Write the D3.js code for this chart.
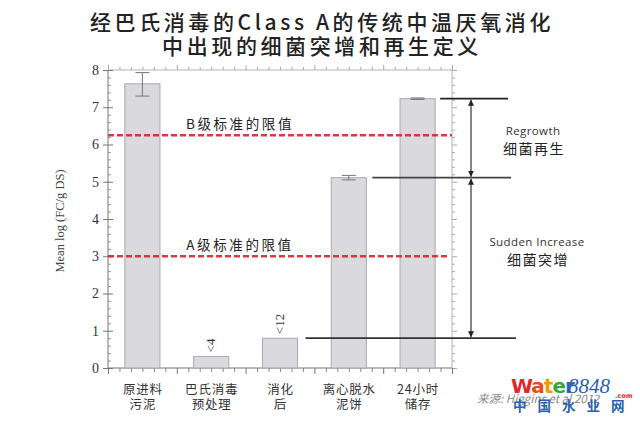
<!DOCTYPE html>
<html><head><meta charset="utf-8">
<script src="https://cdn.jsdelivr.net/npm/d3@7/dist/d3.min.js"></script>
<style>
html,body{margin:0;padding:0;background:#fff;}
svg{display:block;}
</style></head>
<body>
<svg id="chart" width="640" height="422"></svg>
<script>
// ---- data ----
const titleLines = ["经巴氏消毒的Class A的传统中温厌氧消化", "中出现的细菌突增和再生定义"];
const categories = [["原进料","污泥"],["巴氏消毒","预处理"],["消化","后"],["离心脱水","泥饼"],["24小时","储存"]];
const values = [7.63, 0.31, 0.80, 5.11, 7.23];
const errLow = [7.30, null, null, 5.05, 7.21];
const errHigh = [7.93, null, null, 5.17, 7.25];
const barNotes = ["", "<4", "<12", "", ""];
const limitValues = [6.25, 3.0];
const limitLabels = ["B级标准的限值", "A级标准的限值"];
const yTicks = [0,1,2,3,4,5,6,7,8];
const yLabel = "Mean log (FC/g DS)";
const annoTexts = [["Regrowth","细菌再生"],["Sudden Increase","细菌突增"]];
const sourceText = "来源: Higgins et al 2012";

// ---- layout ----
const L = 108, R = 452, T = 70, B = 368;
const svg = d3.select("#chart");
const cjk = "'Noto Sans CJK SC','Noto Sans',sans-serif";
const serif = "'Liberation Serif','DejaVu Serif',serif";

const x = d3.scaleBand().domain(d3.range(categories.length)).range([L, R]).paddingInner(0.49).paddingOuter(0.245);
const xl = d3.scaleLinear().domain([0, categories.length]).range([L, R]);
const y = d3.scaleLinear().domain([0, 8]).range([B, T]);

// title
svg.selectAll("text.title").data(titleLines).join("text")
  .attr("class","title")
  .attr("x", 322).attr("y", (d,i)=> 30 + i*24)
  .attr("text-anchor","middle")
  .style("font-family", cjk).style("font-size","21px").style("font-weight","500")
  .style("letter-spacing","3.6px").style("fill","#222")
  .text(d=>d);

const frameCol = "#9a9a9a";
// frame lines
svg.append("line").attr("x1",L).attr("x2",R).attr("y1",T).attr("y2",T).attr("stroke","#b5b5b5").attr("stroke-width",1);
svg.append("line").attr("x1",R).attr("x2",R).attr("y1",T).attr("y2",B).attr("stroke","#b5b5b5").attr("stroke-width",1);

// minor tick values
const yMinor = d3.range(0, 8.0001, 0.2).filter(v => Math.abs(v - Math.round(v)) > 1e-6);
const xMinor = d3.range(0, 5.0001, 1/6).filter(v => Math.abs(v - Math.round(v)) > 1e-6);

function styleAxis(g, col){
  g.select(".domain").remove();
  g.selectAll(".tick line").attr("stroke", col);
}
// left axis major
const gl = svg.append("g").attr("transform",`translate(${L},0)`)
  .call(d3.axisLeft(y).tickValues(yTicks).tickSize(5).tickPadding(4).tickFormat(d3.format("d")));
styleAxis(gl, "#777");
gl.selectAll(".tick text").style("font-family", serif).style("font-size","14px").style("fill","#333");
gl.selectAll(".tick").append("line").attr("x2",5).attr("stroke","#777");
// left minor
const glm = svg.append("g").attr("transform",`translate(${L},0)`)
  .call(d3.axisRight(y).tickValues(yMinor).tickSize(3).tickFormat(""));
styleAxis(glm, "#999");
// right axis
const gr = svg.append("g").attr("transform",`translate(${R},0)`)
  .call(d3.axisRight(y).tickValues(yTicks).tickSize(5).tickFormat(""));
styleAxis(gr, "#aaa");
const grm = svg.append("g").attr("transform",`translate(${R},0)`)
  .call(d3.axisRight(y).tickValues(yMinor).tickSize(3).tickFormat(""));
styleAxis(grm, "#aaa");
// bottom axis
const gb = svg.append("g").attr("transform",`translate(0,${B})`)
  .call(d3.axisBottom(xl).tickValues(d3.range(0,6)).tickSize(6).tickFormat(""));
styleAxis(gb, "#777");
const gbm = svg.append("g").attr("transform",`translate(0,${B})`)
  .call(d3.axisBottom(xl).tickValues(xMinor).tickSize(4).tickFormat(""));
styleAxis(gbm, "#888");
// top axis
const gt = svg.append("g").attr("transform",`translate(0,${T})`)
  .call(d3.axisTop(xl).tickValues(d3.range(0,6)).tickSize(5).tickFormat(""));
styleAxis(gt, "#aaa");
const gtm = svg.append("g").attr("transform",`translate(0,${T})`)
  .call(d3.axisTop(xl).tickValues(xMinor).tickSize(3).tickFormat(""));
styleAxis(gtm, "#aaa");
// axis lines
svg.append("line").attr("x1",L).attr("x2",L).attr("y1",T).attr("y2",B).attr("stroke","#777").attr("stroke-width",1);
svg.append("line").attr("x1",L).attr("x2",R).attr("y1",B).attr("y2",B).attr("stroke","#777").attr("stroke-width",1);

// y label
svg.append("text")
  .attr("transform",`translate(64,${(T+B)/2+2}) rotate(-90)`)
  .attr("text-anchor","middle")
  .style("font-family", serif).style("font-size","12.5px").style("fill","#444")
  .text(yLabel);

// bars
svg.selectAll("rect.bar").data(values).join("rect")
  .attr("class","bar")
  .attr("x",(d,i)=>x(i)).attr("width",x.bandwidth())
  .attr("y",d=>y(d)).attr("height",d=>B - y(d))
  .attr("fill","#d9d9de").attr("stroke","#a9a9b0").attr("stroke-width",1);

// error bars
const errData = values.map((v,i)=>({i, lo:errLow[i], hi:errHigh[i]})).filter(d=>d.lo!=null);
const eg = svg.selectAll("g.err").data(errData).join("g").attr("class","err");
eg.append("line").attr("x1",d=>x(d.i)+x.bandwidth()/2).attr("x2",d=>x(d.i)+x.bandwidth()/2)
  .attr("y1",d=>y(d.lo)).attr("y2",d=>y(d.hi)).attr("stroke","#777").attr("stroke-width",1);
eg.selectAll("line.cap").data(d=>[[d.i,d.lo],[d.i,d.hi]]).join("line").attr("class","cap")
  .attr("x1",d=>x(d[0])+x.bandwidth()/2-7).attr("x2",d=>x(d[0])+x.bandwidth()/2+7)
  .attr("y1",d=>y(d[1])).attr("y2",d=>y(d[1])).attr("stroke","#777").attr("stroke-width",1);

// bar notes (rotated)
values.forEach((v,i)=>{
  if(!barNotes[i]) return;
  svg.append("text")
    .attr("transform",`translate(${x(i)+x.bandwidth()/2+4},${y(v)-4}) rotate(-90)`)
    .attr("text-anchor","start")
    .style("font-family", serif).style("font-size","13px").style("fill","#333")
    .text(barNotes[i]);
});

// limit lines
svg.selectAll("line.limit").data(limitValues).join("line").attr("class","limit")
  .attr("x1",L).attr("x2",(d,i)=> i===0 ? R : R-4)
  .attr("y1",d=>y(d)).attr("y2",d=>y(d))
  .attr("stroke","#d8242c").attr("stroke-width",2.6).attr("stroke-dasharray","6,3").attr("opacity",0.9);
svg.selectAll("text.limit").data(limitLabels).join("text").attr("class","limit")
  .attr("x",240).attr("y",(d,i)=>y(limitValues[i]) - 6.5)
  .attr("text-anchor","middle")
  .style("font-family", cjk).style("font-size","13.5px").style("letter-spacing","2.6px").style("fill","#222")
  .text(d=>d);

// annotation lines
const xr = x(4)+x.bandwidth();
const annoLines = [
  {v: values[4], x1: x(4)+x.bandwidth()+5, x2: R+56, c:"#222"},
  {v: values[3], x1: x(3)+x.bandwidth()+6, x2: R+59, c:"#444"},
  {v: values[2], x1: x(2)+x.bandwidth()+8, x2: R+64, c:"#333"}
];
svg.selectAll("line.anno").data(annoLines).join("line").attr("class","anno")
  .attr("x1",d=>d.x1).attr("x2",d=>d.x2).attr("y1",d=>y(d.v)).attr("y2",d=>y(d.v))
  .attr("stroke",d=>d.c).attr("stroke-width",1.8);

const defs = svg.append("defs");
defs.append("marker").attr("id","ah").attr("viewBox","0 0 10 10").attr("refX",10).attr("refY",5)
  .attr("markerWidth",5).attr("markerHeight",5).attr("orient","auto-start-reverse")
  .append("path").attr("d","M0,0L10,5L0,10z").attr("fill","#222");
const ax = R + 19;
[[values[4], values[3]], [values[3], values[2]]].forEach(([a,b])=>{
  svg.append("line").attr("x1",ax).attr("x2",ax).attr("y1",y(a)+1).attr("y2",y(b)-1)
    .attr("stroke","#333").attr("stroke-width",1.2)
    .attr("marker-start","url(#ah)").attr("marker-end","url(#ah)");
});

// annotation texts
const annoPos = [{x:533, y: (y(values[4])+y(values[3]))/2 - 3}, {x:537, y:(y(values[3])+y(values[2]))/2 - 12}];
annoTexts.forEach((t,i)=>{
  svg.append("text").attr("x",annoPos[i].x).attr("y",annoPos[i].y)
    .attr("text-anchor","middle")
    .style("font-family","'Open Sans','DejaVu Sans',sans-serif").style("font-size","11.5px")
    .style("letter-spacing","0.4px").style("fill","#333").text(t[0]);
  svg.append("text").attr("x",annoPos[i].x+1).attr("y",annoPos[i].y+19)
    .attr("text-anchor","middle")
    .style("font-family", cjk).style("font-size","14px")
    .style("letter-spacing","1.5px").style("fill","#222").text(t[1]);
});

// category labels
categories.forEach((c,i)=>{
  c.forEach((s,j)=>{
    svg.append("text").attr("x",x(i)+x.bandwidth()/2+0.5).attr("y",394 + j*15)
      .attr("text-anchor","middle")
      .style("font-family", cjk).style("font-size","12.5px").style("letter-spacing","0.8px").style("fill","#333")
      .text(s);
  });
});

// source
svg.append("text").attr("x",477).attr("y",403)
  .style("font-family","'Noto Sans CJK SC','DejaVu Sans',sans-serif").style("font-style","italic")
  .style("font-size","11.5px").style("fill","#8a8a8a").text(sourceText);

// watermark
const wm = svg.append("g");
const wt = wm.append("text").attr("x",511).attr("y",393)
  .style("font-family","'DejaVu Sans',sans-serif").style("font-weight","bold").style("font-size","20px").style("letter-spacing","-1px");
[["W","#e3262a"],["a","#e84a1c"],["t","#f39a00"],["e","#3aa63a"],["r","#2c64b8"]].forEach(([ch,col])=>{
  wt.append("tspan").attr("fill",col).text(ch);
});
wm.append("text").attr("x",568).attr("y",393)
  .style("font-family", serif).style("font-style","italic").style("font-size","21px").style("fill","#2a5fb0").text("8848");
wm.append("text").attr("x",615).attr("y",398)
  .style("font-family","'DejaVu Sans',sans-serif").style("font-size","6.5px").style("font-weight","bold").style("fill","#e3262a").text(".com");
wm.append("text").attr("x",513).attr("y",411)
  .style("font-family", cjk).style("font-weight","bold").style("font-size","13.5px").style("letter-spacing","11px").style("fill","#2a5fb0").text("中国水业网");
</script>
</body></html>
